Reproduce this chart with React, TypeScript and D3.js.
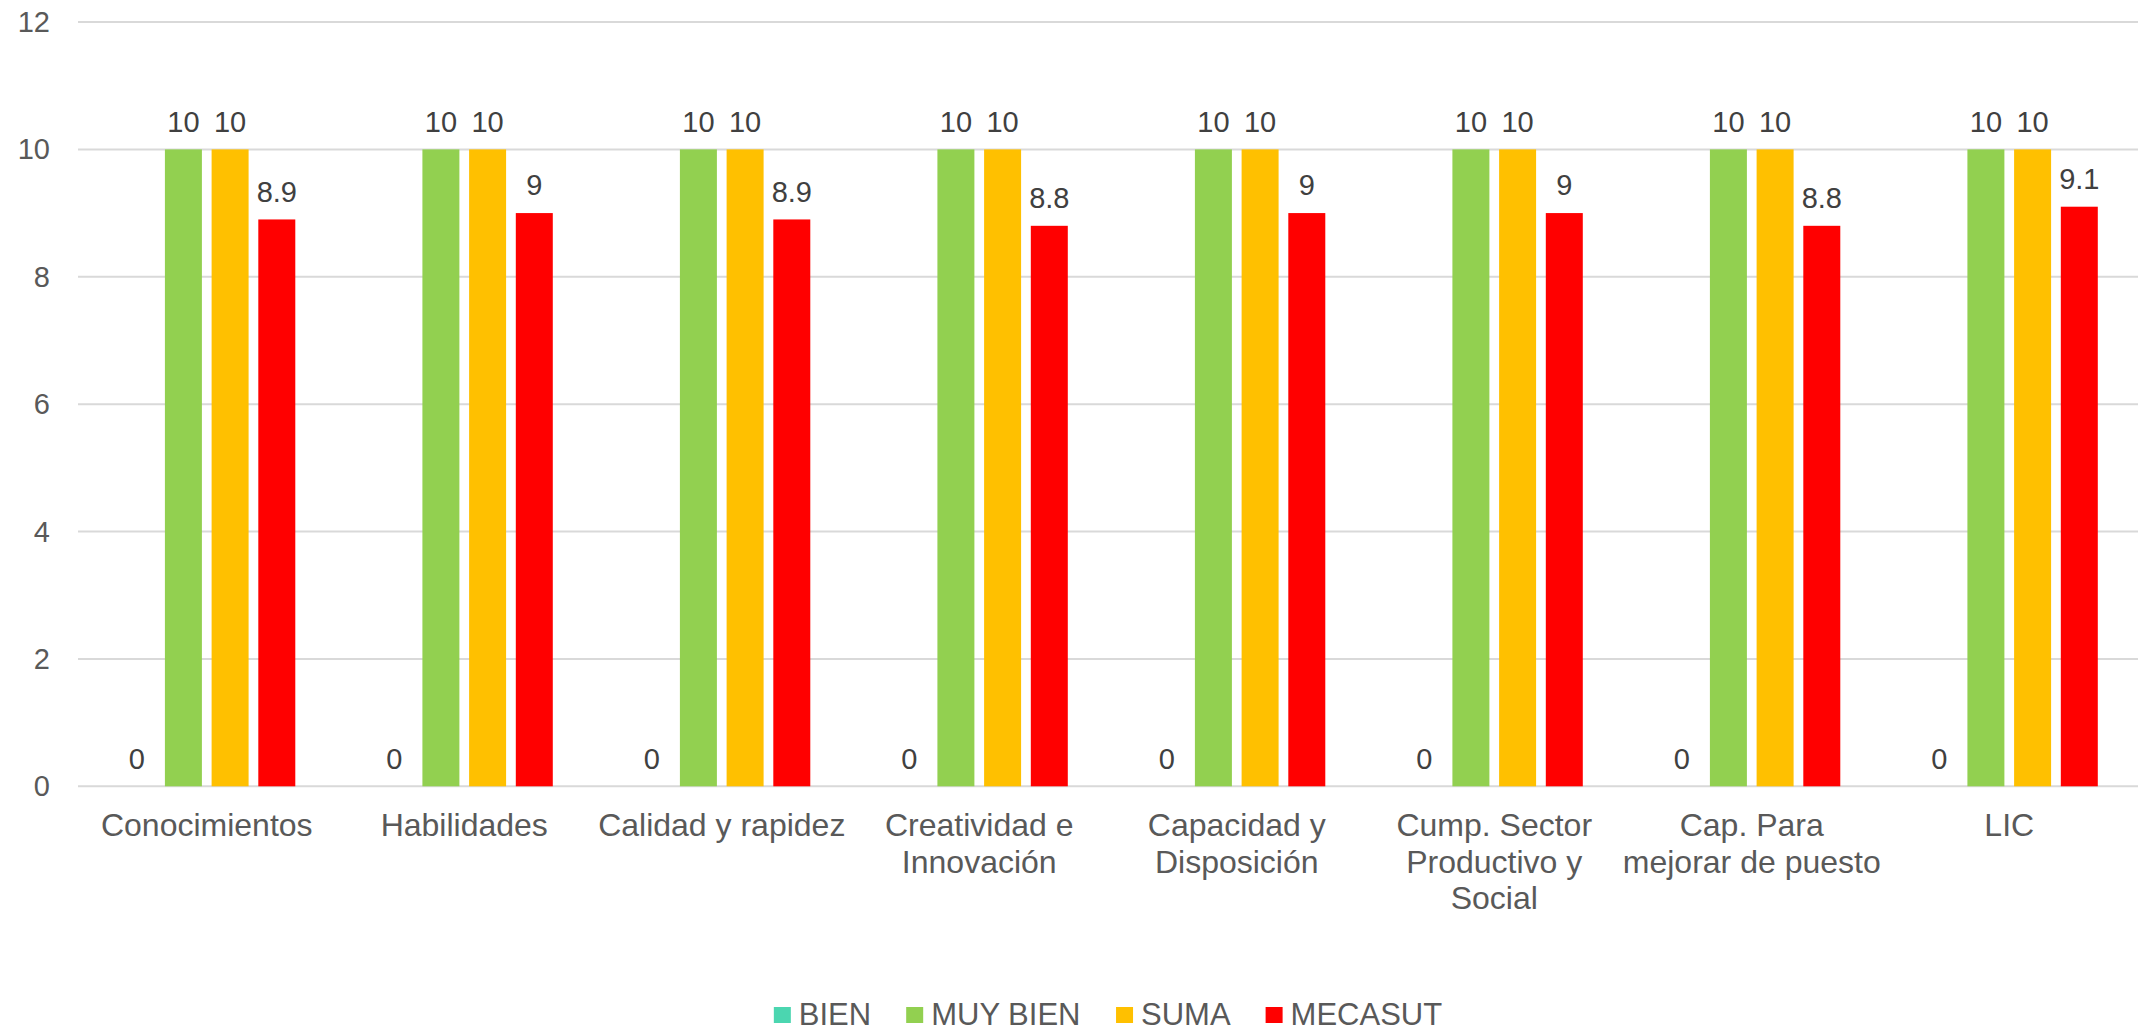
import React from "react";
import * as d3 from "d3";

const categories: string[][] = [
  ["Conocimientos"],
  ["Habilidades"],
  ["Calidad y rapidez"],
  ["Creatividad e", "Innovación"],
  ["Capacidad y", "Disposición"],
  ["Cump. Sector", "Productivo y", "Social"],
  ["Cap. Para", "mejorar de puesto"],
  ["LIC"],
];
const seriesNames = ["BIEN", "MUY BIEN", "SUMA", "MECASUT"];
const seriesColors = ["#4BD6B0", "#92D050", "#FFC000", "#FF0000"];
const bien = [0, 0, 0, 0, 0, 0, 0, 0];
const muyBien = [10, 10, 10, 10, 10, 10, 10, 10];
const suma = [10, 10, 10, 10, 10, 10, 10, 10];
const mecasut = [8.9, 9, 8.9, 8.8, 9, 9, 8.8, 9.1];
const yTicks = [0, 2, 4, 6, 8, 10, 12];

const W = 2138;
const H = 1031;
const FONT = "'Liberation Sans', Arial, Helvetica, sans-serif";

function measure(text: string, size: number): number {
  const c = document.createElement("canvas");
  const ctx = c.getContext("2d");
  if (!ctx) return text.length * size * 0.6;
  ctx.font = `${size}px ${FONT}`;
  return ctx.measureText(text).width;
}

export default function App() {
  const series = [bien, muyBien, suma, mecasut];
  const catKeys = categories.map((c) => c.join(" "));
  const x0 = d3.scaleBand<string>().domain(catKeys).range([78, 2138]).paddingInner(0).paddingOuter(0);
  const x1 = d3
    .scaleBand<string>()
    .domain(seriesNames)
    .range([0, x0.bandwidth()])
    .paddingInner(0.208)
    .paddingOuter(0.861);
  const y = d3.scaleLinear().domain([0, 12]).range([786.3, 22]);

  // legend layout
  const legendSize = 31;
  const items = seriesNames.map((n) => ({ n, w: measure(n, legendSize) }));
  const sq = 17;
  const gapText = 8;
  const gapItem = 35;
  const total = items.reduce((s, it) => s + sq + gapText + it.w, 0) + gapItem * (items.length - 1);
  let lx = 1108 - total / 2;
  const legendPos = items.map((it) => {
    const p = { ...it, x: lx };
    lx += sq + gapText + it.w + gapItem;
    return p;
  });

  return (
    <svg
      width={W}
      height={H}
      style={{ position: "fixed", left: 0, top: 0, background: "#fff" }}
      fontFamily={FONT}
    >
      <rect x={0} y={0} width={W} height={H} fill="#fff" />
      {yTicks.map((t) => (
        <g key={t}>
          <line x1={78} x2={2138} y1={y(t)} y2={y(t)} stroke="#D9D9D9" strokeWidth={2} />
          <text x={50} y={y(t) + 10} textAnchor="end" fontSize={29} fill="#595959">
            {t}
          </text>
        </g>
      ))}
      {catKeys.map((ck, ci) => (
        <g key={ck} transform={`translate(${x0(ck)},0)`}>
          {series.map((vals, si) => {
            const bx = x1(seriesNames[si]) as number;
            const v = vals[ci];
            return (
              <g key={si}>
                <rect
                  x={bx}
                  width={x1.bandwidth()}
                  y={y(v)}
                  height={y(0) - y(v)}
                  fill={seriesColors[si]}
                />
                <text
                  x={bx + x1.bandwidth() / 2}
                  y={y(v) - 17.8}
                  textAnchor="middle"
                  fontSize={29}
                  fill="#404040"
                >
                  {String(v)}
                </text>
              </g>
            );
          })}
          {categories[ci].map((line, li) => (
            <text
              key={li}
              x={x0.bandwidth() / 2}
              y={836 + li * 36.7}
              textAnchor="middle"
              fontSize={32}
              fill="#595959"
            >
              {line}
            </text>
          ))}
        </g>
      ))}
      {legendPos.map((it, i) => (
        <g key={it.n}>
          <rect x={it.x} y={1007} width={sq} height={16} fill={seriesColors[i]} />
          <text x={it.x + sq + gapText} y={1025} fontSize={legendSize} fill="#595959">
            {it.n}
          </text>
        </g>
      ))}
    </svg>
  );
}
